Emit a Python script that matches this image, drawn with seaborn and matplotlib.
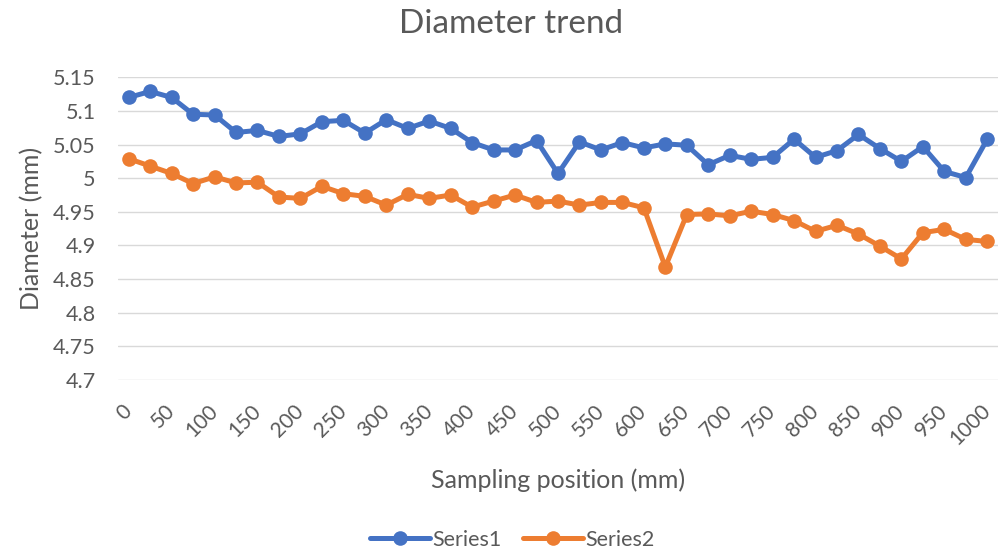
import matplotlib
matplotlib.use("Agg")
import matplotlib.pyplot as plt
import seaborn as sns
import pandas as pd

positions = ["0", "25", "50", "75", "100", "125", "150", "175", "200", "225",
             "250", "275", "300", "325", "350", "375", "400", "425", "450", "475",
             "500", "525", "550", "575", "600", "625", "650", "675", "700", "725",
             "750", "775", "800", "825", "850", "875", "900", "925", "950", "975", "1000"]

series1 = [5.120, 5.129, 5.120, 5.095, 5.094, 5.068, 5.071, 5.062, 5.066, 5.084,
           5.086, 5.067, 5.087, 5.074, 5.085, 5.074, 5.053, 5.042, 5.042, 5.056,
           5.007, 5.054, 5.042, 5.053, 5.045, 5.051, 5.049, 5.020, 5.034, 5.028,
           5.031, 5.058, 5.031, 5.041, 5.065, 5.044, 5.025, 5.047, 5.010, 5.001, 5.058]

series2 = [5.029, 5.018, 5.007, 4.992, 5.002, 4.993, 4.994, 4.972, 4.970, 4.988,
           4.977, 4.973, 4.960, 4.976, 4.970, 4.975, 4.957, 4.966, 4.975, 4.964,
           4.966, 4.960, 4.964, 4.964, 4.956, 4.868, 4.946, 4.947, 4.944, 4.951,
           4.946, 4.937, 4.921, 4.930, 4.917, 4.899, 4.880, 4.919, 4.924, 4.909, 4.906]

series_names = ["Series1", "Series2"]
colors = ["#4472C4", "#ED7D31"]
y_ticks = [4.7, 4.75, 4.8, 4.85, 4.9, 4.95, 5.0, 5.05, 5.1, 5.15]
y_tick_labels = ["4.7", "4.75", "4.8", "4.85", "4.9", "4.95", "5", "5.05", "5.1", "5.15"]

df = pd.DataFrame({
    "position": positions * 2,
    "diameter": series1 + series2,
    "series": [series_names[0]] * len(series1) + [series_names[1]] * len(series2),
})

sns.set_theme(style="white")
plt.rcParams["font.family"] = ["Lato", "DejaVu Sans"]
text_color = "#595959"

fig = plt.figure(figsize=(9.99, 5.56), dpi=100)
ax = fig.add_axes([0.1181, 0.3165, 0.8809, 0.5445])

sns.lineplot(data=df, x="position", y="diameter", hue="series",
             palette=colors, marker="o", markersize=10.5, markeredgewidth=0,
             linewidth=3.6, ax=ax, sort=False)

ax.set_xlim(-0.5, len(positions) - 0.5)
ax.set_ylim(4.7, 5.15)
ax.set_yticks(y_ticks)
ax.set_yticklabels(y_tick_labels)
ax.set_xticks(range(0, len(positions), 2))
ax.set_xticklabels(positions[::2], rotation=45, ha="right", va="center",
                   rotation_mode="anchor")

ax.yaxis.grid(True, color="#D9D9D9", linewidth=1.0)
ax.xaxis.grid(False)
ax.set_axisbelow(True)
for s in ax.spines.values():
    s.set_visible(False)
ax.tick_params(axis="y", length=0, labelsize=15.5, colors=text_color, pad=16)
ax.tick_params(axis="x", length=0, labelsize=15, colors=text_color, pad=20)

ax.set_xlabel("Sampling position (mm)", fontsize=18, color=text_color, labelpad=14)
ax.set_ylabel("Diameter (mm)", fontsize=18, color=text_color, labelpad=7)
fig.text(0.5115, 1 - 33 / 556, "Diameter trend", fontsize=24, color=text_color,
         ha="center", va="baseline")

handles, labels = ax.get_legend_handles_labels()
ax.legend_.remove()
fig.legend(handles, labels, loc="lower center", bbox_to_anchor=(0.5125, -0.024),
           ncol=2, frameon=False, fontsize=15.5, handlelength=2.8,
           handletextpad=0.1, columnspacing=1.0, labelcolor=text_color)

fig.savefig("out.png", dpi=100)
